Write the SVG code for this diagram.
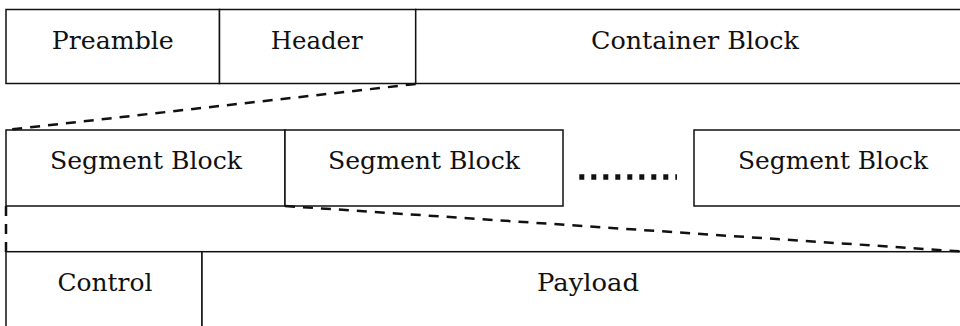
<svg xmlns="http://www.w3.org/2000/svg" width="960" height="326" viewBox="0 0 960 326">
  <style>
    .box { fill: #ffffff; stroke: #111111; stroke-width: 1.5; }
    .lbl { font-family: "DejaVu Serif", "Liberation Serif", serif; font-size: 25px; fill: #111111; text-anchor: middle; }
    .dash { fill: none; stroke: #111111; stroke-width: 2.5; stroke-dasharray: 10 8; }
    .dots { fill: none; stroke: #111111; stroke-width: 5.5; stroke-dasharray: 5 7; }
  </style>
  <rect width="960" height="326" fill="#ffffff"/>

  <!-- frame row -->
  <g id="preamble">
    <rect class="box" x="6" y="9.5" width="213.5" height="74"/>
    <text class="lbl" x="112.8" y="49.3" textLength="122" lengthAdjust="spacingAndGlyphs">Preamble</text>
  </g>
  <g id="header">
    <rect class="box" x="219.5" y="9.5" width="196.2" height="74"/>
    <text class="lbl" x="316.7" y="49.3" textLength="92" lengthAdjust="spacingAndGlyphs">Header</text>
  </g>
  <g id="container-block">
    <rect class="box" x="415.7" y="9.5" width="560" height="74"/>
    <text class="lbl" x="695" y="49.3" textLength="208" lengthAdjust="spacingAndGlyphs">Container Block</text>
  </g>

  <!-- segment row -->
  <g id="segment-1">
    <rect class="box" x="6" y="130" width="279" height="76"/>
    <text class="lbl" x="146" y="169.3" textLength="192" lengthAdjust="spacingAndGlyphs">Segment Block</text>
  </g>
  <g id="segment-2">
    <rect class="box" x="285" y="130" width="278" height="76"/>
    <text class="lbl" x="424" y="169.3" textLength="192" lengthAdjust="spacingAndGlyphs">Segment Block</text>
  </g>
  <g id="segment-n">
    <rect class="box" x="694" y="130" width="280" height="76"/>
    <text class="lbl" x="833" y="169.3" textLength="190" lengthAdjust="spacingAndGlyphs">Segment Block</text>
  </g>
  <g id="ellipsis">
    <line class="dots" x1="579.3" y1="177" x2="677" y2="177"/>
  </g>

  <!-- segment contents row -->
  <g id="control">
    <rect class="box" x="6" y="251.7" width="196" height="90"/>
    <text class="lbl" x="105" y="291" textLength="95" lengthAdjust="spacingAndGlyphs">Control</text>
  </g>
  <g id="payload">
    <rect class="box" x="202" y="251.7" width="772" height="90"/>
    <text class="lbl" x="588" y="291" textLength="102" lengthAdjust="spacingAndGlyphs">Payload</text>
  </g>

  <!-- expansion guides -->
  <g id="connectors">
    <line class="dash" x1="415.7" y1="84" x2="6" y2="130"/>
    <line class="dash" x1="6" y1="206" x2="6" y2="252"/>
    <line class="dash" x1="285" y1="206" x2="962" y2="251.5"/>
  </g>
</svg>
